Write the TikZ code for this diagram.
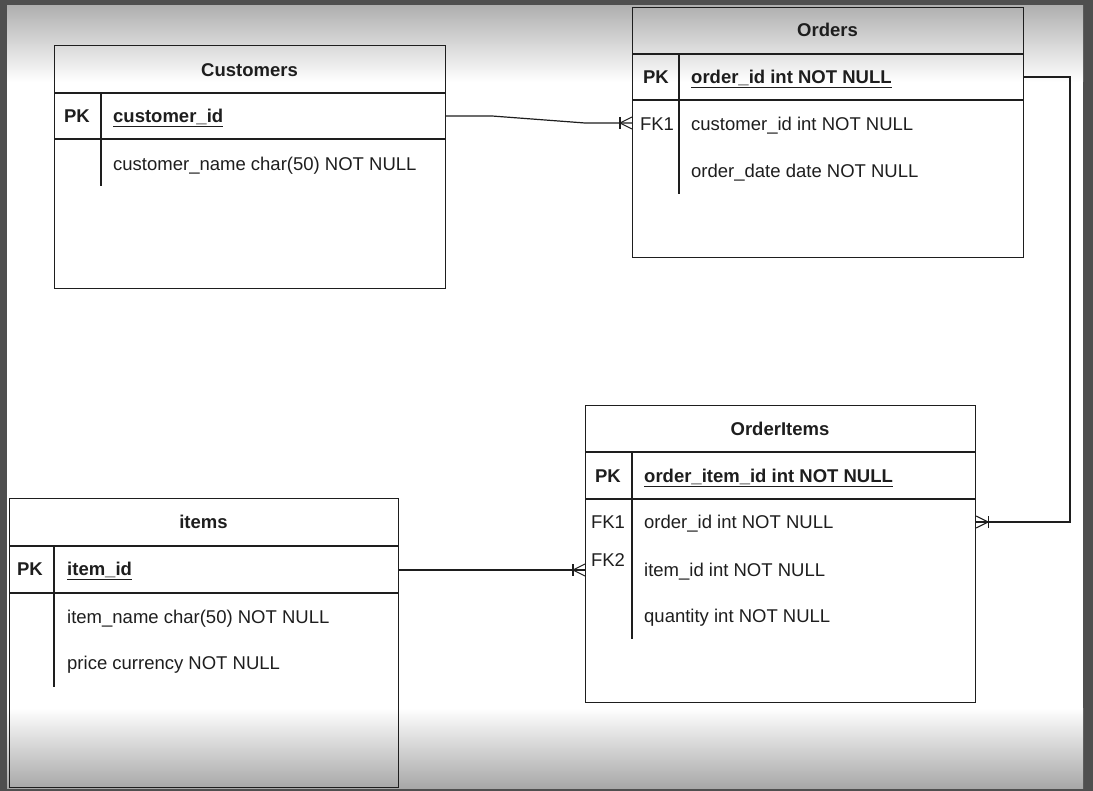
\documentclass[tikz,border=0pt]{standalone}
\usepackage{fontspec}
\setmainfont{Liberation Sans}
\definecolor{framecol}{HTML}{4F4F4F}
\definecolor{shadetop}{HTML}{B0B0B0}
\definecolor{shadebot}{HTML}{A8A8A8}
\definecolor{ink}{HTML}{1E1E1E}
\begin{document}
\begin{tikzpicture}[x=1pt,y=-1pt,
  tbl/.style={draw=ink, line width=1.2pt, rectangle, inner sep=0pt, anchor=north west},
  sepline/.style={draw=ink, line width=1.2pt},
  txt/.style={font=\fontsize{18.5}{21}\selectfont, text=ink, inner sep=0pt, text height=13pt, text depth=0pt},
  ttl/.style={txt, font=\fontsize{18.5}{21}\selectfont\bfseries},
  keylbl/.style={txt, font=\fontsize{18.5}{21}\selectfont\bfseries},
  fklbl/.style={txt},
  fld/.style={txt, anchor=west},
  pkfld/.style={txt, anchor=west, font=\fontsize{18.5}{21}\selectfont\bfseries},
  conn/.style={draw=ink, line width=1.2pt},
  crowline/.style={draw=ink, line width=1.1pt},
  manyone/.pic={
    \draw[crowline] (-12,-6) -- (-12,6);
    \draw[crowline] (-12,0) -- (0,-6);
    \draw[crowline] (-12,0) -- (0,6);
  }
]
\useasboundingbox (0,0) rectangle (1093,791);
% frame and vignette
\fill[framecol] (0,0) rectangle (1093,791);
\fill[white] (7,6) rectangle (1083,788);
\shade[top color=shadetop, bottom color=white] (7,6) rectangle (1083,82);
\shade[top color=white, bottom color=shadebot] (7,708) rectangle (1083,788);

% ---------- Customers ----------
\node[tbl, minimum width=391pt, minimum height=243pt] (cust) at (54,45) {};
\node[ttl] (cust-title) at (249.5,70) {Customers};
\draw[sepline] (54,93) -- (445,93);
\draw[sepline] (54,139) -- (445,139);
\draw[sepline] (101,93) -- (101,186);
\node[keylbl] (cust-pkl) at (77,116) {PK};
\node[pkfld] (cust-pk) at (113,116) {\underline{customer\_id}};
\node[fld] (cust-name) at (113,164) {customer\_name char(50) NOT NULL};

% ---------- Orders ----------
\node[tbl, minimum width=391pt, minimum height=250pt] (ord) at (632,7) {};
\node[ttl] (ord-title) at (827.5,30) {Orders};
\draw[sepline] (632,54) -- (1023,54);
\draw[sepline] (632,100) -- (1023,100);
\draw[sepline] (679,54) -- (679,194);
\node[keylbl] (ord-pkl) at (656,77) {PK};
\node[pkfld] (ord-pk) at (691,77) {\underline{order\_id int NOT NULL}};
\node[fklbl] (ord-fkl) at (657,124) {FK1};
\node[fld] (ord-fk1) at (691,124) {customer\_id int NOT NULL};
\node[fld] (ord-date) at (691,171) {order\_date date NOT NULL};

% ---------- OrderItems ----------
\node[tbl, minimum width=390pt, minimum height=297pt] (oi) at (585,405) {};
\node[ttl] (oi-title) at (780,429) {OrderItems};
\draw[sepline] (585,452) -- (975,452);
\draw[sepline] (585,499) -- (975,499);
\draw[sepline] (632,452) -- (632,639);
\node[keylbl] (oi-pkl) at (608,476) {PK};
\node[pkfld] (oi-pk) at (644,476) {\underline{order\_item\_id int NOT NULL}};
\node[fklbl] (oi-fk1l) at (608,522) {FK1};
\node[fklbl] (oi-fk2l) at (608,560) {FK2};
\node[fld] (oi-fk1) at (644,522) {order\_id int NOT NULL};
\node[fld] (oi-fk2) at (644,570) {item\_id int NOT NULL};
\node[fld] (oi-qty) at (644,616) {quantity int NOT NULL};

% ---------- items ----------
\node[tbl, minimum width=389pt, minimum height=289pt] (items) at (9,498) {};
\node[ttl] (items-title) at (203.5,522) {items};
\draw[sepline] (9,546) -- (398,546);
\draw[sepline] (9,593) -- (398,593);
\draw[sepline] (54,546) -- (54,687);
\node[keylbl] (items-pkl) at (30,569) {PK};
\node[pkfld] (items-pk) at (67,569) {\underline{item\_id}};
\node[fld] (items-name) at (67,617) {item\_name char(50) NOT NULL};
\node[fld] (items-price) at (67,663) {price currency NOT NULL};

% ---------- connectors ----------
\coordinate (jogA) at (492,116);
\coordinate (jogB) at (585,123);
\coordinate (ordin) at (632,123);
\draw[conn] (cust.east |- cust-pk) -- (jogA) -- (jogB) -- (ordin);
\pic at (ordin) {manyone};

\coordinate (elbow) at (1070,300);
\draw[conn] (ord.east |- ord-pk) -| (elbow) |- (oi.east |- oi-fk1);
\pic[rotate=180] at (oi.east |- oi-fk1) {manyone};

\draw[conn] (items.east |- oi-fk2) -- (oi.west |- oi-fk2);
\pic at (oi.west |- oi-fk2) {manyone};
\end{tikzpicture}
\end{document}
